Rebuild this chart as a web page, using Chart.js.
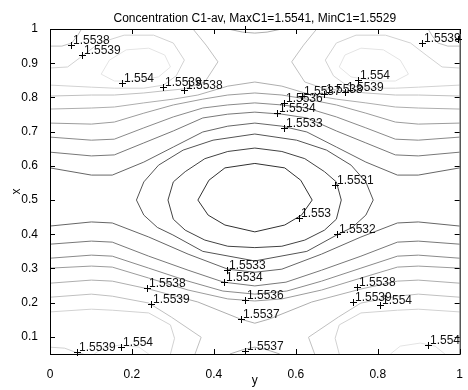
<!DOCTYPE html>
<html>
<head>
<meta charset="utf-8">
<script src="https://cdn.jsdelivr.net/npm/chart.js@4/dist/chart.umd.min.js"></script>
<style>
  html, body { margin: 0; padding: 0; background: #fff; }
  #wrap { width: 468px; height: 390px; }
</style>
</head>
<body>
<div id="wrap"><canvas id="plot" width="468" height="390"></canvas></div>
<script>
// contour lines: horizontal "y" values and vertical "x" values

// 1.5530
const l30Y = [0.361, 0.388, 0.427, 0.5, 0.573, 0.612, 0.640, 0.614, 0.573, 0.5, 0.427, 0.386, 0.361];
const l30X = [0.500, 0.558, 0.594, 0.607, 0.594, 0.558, 0.500, 0.456, 0.427, 0.407, 0.427, 0.456, 0.500];

// 1.5531
const l31Y = [0.288, 0.301, 0.330, 0.378, 0.434, 0.5, 0.566, 0.622, 0.670, 0.699, 0.711, 0.699, 0.670, 0.622, 0.566, 0.5, 0.434, 0.378, 0.330, 0.301, 0.288];
const l31X = [0.500, 0.553, 0.583, 0.621, 0.642, 0.652, 0.642, 0.621, 0.583, 0.553, 0.500, 0.444, 0.412, 0.383, 0.365, 0.361, 0.365, 0.383, 0.412, 0.444, 0.500];

// 1.5532
const l32Y = [0.211, 0.229, 0.265, 0.325, 0.398, 0.5, 0.602, 0.675, 0.735, 0.771, 0.789, 0.771, 0.738, 0.700, 0.627, 0.5, 0.373, 0.300, 0.262, 0.229, 0.211];
const l32X = [0.500, 0.553, 0.602, 0.646, 0.675, 0.693, 0.675, 0.646, 0.602, 0.553, 0.500, 0.456, 0.420, 0.398, 0.350, 0.322, 0.350, 0.398, 0.420, 0.456, 0.500];

// 1.5533
const l33upY = [0, 0.101, 0.152, 0.229, 0.301, 0.373, 0.434, 0.5, 0.566, 0.627, 0.699, 0.771, 0.848, 0.899, 1];
const l33upX = [0.594, 0.573, 0.573, 0.611, 0.655, 0.699, 0.716, 0.725, 0.716, 0.699, 0.655, 0.611, 0.573, 0.573, 0.594];
const l33loY = [0, 0.101, 0.152, 0.241, 0.337, 0.434, 0.5, 0.566, 0.663, 0.759, 0.848, 0.899, 1];
const l33loX = [0.424, 0.436, 0.433, 0.392, 0.342, 0.298, 0.289, 0.298, 0.342, 0.392, 0.433, 0.436, 0.424];

// 1.5534
const l34upY = [0, 0.101, 0.157, 0.229, 0.301, 0.373, 0.434, 0.5, 0.566, 0.627, 0.699, 0.771, 0.843, 0.899, 1];
const l34upX = [0.640, 0.629, 0.632, 0.667, 0.702, 0.740, 0.751, 0.757, 0.751, 0.740, 0.702, 0.667, 0.632, 0.629, 0.640];
const l34loY = [0, 0.101, 0.152, 0.241, 0.337, 0.424, 0.5, 0.576, 0.663, 0.759, 0.848, 0.899, 1];
const l34loX = [0.371, 0.380, 0.377, 0.336, 0.295, 0.260, 0.249, 0.260, 0.295, 0.336, 0.377, 0.380, 0.371];

// 1.5535
const l35upY = [0, 0.101, 0.157, 0.229, 0.301, 0.373, 0.434, 0.5, 0.566, 0.627, 0.699, 0.771, 0.843, 0.899, 1];
const l35upX = [0.684, 0.675, 0.678, 0.711, 0.743, 0.769, 0.778, 0.784, 0.778, 0.769, 0.743, 0.711, 0.678, 0.675, 0.684];
const l35loY = [0, 0.101, 0.152, 0.241, 0.337, 0.422, 0.5, 0.578, 0.663, 0.759, 0.848, 0.899, 1];
const l35loX = [0.330, 0.339, 0.336, 0.301, 0.263, 0.234, 0.225, 0.234, 0.263, 0.301, 0.336, 0.339, 0.330];

// 1.5536
const l36upY = [0, 0.101, 0.157, 0.229, 0.301, 0.373, 0.434, 0.5, 0.566, 0.627, 0.699, 0.771, 0.843, 0.899, 1];
const l36upX = [0.725, 0.722, 0.728, 0.754, 0.778, 0.795, 0.807, 0.813, 0.807, 0.795, 0.778, 0.754, 0.728, 0.722, 0.725];
const l36loY = [0, 0.101, 0.152, 0.241, 0.337, 0.434, 0.5, 0.566, 0.663, 0.759, 0.848, 0.899, 1];
const l36loX = [0.301, 0.307, 0.304, 0.272, 0.237, 0.211, 0.205, 0.211, 0.237, 0.272, 0.304, 0.307, 0.301];

// 1.5537
const l37upY = [0, 0.101, 0.157, 0.229, 0.301, 0.361, 0.434, 0.5, 0.566, 0.639, 0.699, 0.771, 0.843, 0.899, 1];
const l37upX = [0.766, 0.769, 0.772, 0.784, 0.795, 0.807, 0.833, 0.845, 0.833, 0.807, 0.795, 0.784, 0.772, 0.769, 0.766];
const l37loY = [0, 0.101, 0.152, 0.241, 0.361, 0.465, 0.5, 0.535, 0.639, 0.759, 0.848, 0.899, 1];
const l37loX = [0.257, 0.266, 0.263, 0.240, 0.202, 0.152, 0.140, 0.152, 0.202, 0.240, 0.263, 0.266, 0.257];
const l37capTopY = [0.434, 0.470, 0.5, 0.530, 0.566];
const l37capTopX = [1.0, 0.991, 0.988, 0.991, 1.0];
const l37capBotY = [0.439, 0.475, 0.5, 0.525, 0.561];
const l37capBotX = [0.050, 0.064, 0.070, 0.064, 0.050];

// 1.5538
const l38tlY = [0, 0.101, 0.157, 0.229, 0.277, 0.328, 0.378, 0.410, 0.381, 0.349];
const l38tlX = [0.804, 0.807, 0.807, 0.813, 0.819, 0.825, 0.845, 0.904, 0.953, 1.0];
const l38trY = [1, 0.899, 0.843, 0.771, 0.723, 0.672, 0.622, 0.590, 0.619, 0.651];
const l38trX = [0.804, 0.807, 0.807, 0.813, 0.819, 0.825, 0.845, 0.904, 0.953, 1.0];
const l38cornerLY = [0, 0.029, 0.053, 0.067, 0.077];
const l38cornerLX = [0.950, 0.950, 0.959, 0.980, 1.0];
const l38cornerRY = [1, 0.971, 0.947, 0.933, 0.923];
const l38cornerRX = [0.950, 0.950, 0.959, 0.980, 1.0];
const l38blY = [0, 0.101, 0.152, 0.241, 0.296, 0.369, 0.354];
const l38blX = [0.216, 0.225, 0.219, 0.199, 0.158, 0.099, 0.050];
const l38brY = [1, 0.899, 0.848, 0.759, 0.704, 0.631, 0.646];
const l38brX = [0.216, 0.225, 0.219, 0.199, 0.158, 0.099, 0.050];

// 1.5539
const l39tlY = [0, 0.043, 0.082, 0.120, 0.181, 0.253, 0.301, 0.328, 0.308, 0.277, 0.229, 0.157, 0.101, 0];
const l39tlX = [0.886, 0.889, 0.924, 0.959, 0.982, 0.982, 0.959, 0.909, 0.863, 0.836, 0.827, 0.827, 0.830, 0.836];
const l39trY = [1, 0.957, 0.918, 0.880, 0.819, 0.747, 0.699, 0.672, 0.692, 0.723, 0.771, 0.843, 0.899, 1];
const l39trX = [0.886, 0.889, 0.924, 0.959, 0.982, 0.982, 0.959, 0.909, 0.863, 0.836, 0.827, 0.827, 0.830, 0.836];
const l39blY = [0, 0.101, 0.152, 0.241, 0.294, 0.304, 0.294];
const l39blX = [0.173, 0.181, 0.178, 0.170, 0.135, 0.096, 0.050];
const l39brY = [1, 0.899, 0.848, 0.759, 0.706, 0.696, 0.706];
const l39brX = [0.173, 0.181, 0.178, 0.170, 0.135, 0.096, 0.050];
const l39cornerY = [0, 0.036, 0.067, 0.082];
const l39cornerX = [0.070, 0.067, 0.053, 0.050];

// 1.5540
const l40tlY = [0.125, 0.145, 0.186, 0.241, 0.280, 0.294, 0.265, 0.205, 0.157, 0.125];
const l40tlX = [0.868, 0.909, 0.939, 0.944, 0.924, 0.889, 0.860, 0.848, 0.848, 0.868];
const l40trY = [0.875, 0.855, 0.814, 0.759, 0.720, 0.706, 0.735, 0.795, 0.843, 0.875];
const l40trX = [0.868, 0.909, 0.939, 0.944, 0.924, 0.889, 0.860, 0.848, 0.848, 0.868];
const l40blY = [0.108, 0.133, 0.173, 0.217, 0.241];
const l40blX = [0.050, 0.070, 0.076, 0.070, 0.050];
const l40brY = [0.831, 0.855, 0.904, 0.940, 0.964];
const l40brX = [0.050, 0.073, 0.082, 0.073, 0.050];

// clabel markers
const labelY = [0.051, 0.077, 0.176, 0.275, 0.328, 0.475, 0.908, 0.995, 0.752, 0.720, 0.670, 0.614, 0.571, 0.554, 0.571,
                0.696, 0.607, 0.701, 0.431, 0.424, 0.475, 0.467, 0.475, 0.236, 0.246, 0.065, 0.173, 0.749, 0.740, 0.805, 0.923];
const labelX = [0.953, 0.924, 0.842, 0.830, 0.822, 1.000, 0.959, 0.971, 0.851, 0.816, 0.810, 0.804, 0.784, 0.754, 0.711,
                0.544, 0.447, 0.401, 0.295, 0.260, 0.208, 0.152, 0.058, 0.243, 0.196, 0.056, 0.070, 0.246, 0.202, 0.193, 0.076];
const labelText = ["1.5538", "1.5539", "1.554", "1.5539", "1.5538", "", "1.5539", "", "1.554", "1.5539", "1.5538", "1.5537", "1.5536", "1.5534", "1.5533",
                   "1.5531", "1.553", "1.5532", "1.5533", "1.5534", "1.5536", "1.5537", "1.5537", "1.5538", "1.5539", "1.5539", "1.554", "1.5538", "1.5539", "1.554", "1.554"];

const xTicks = [0, 0.2, 0.4, 0.6, 0.8, 1];
const yTicks = [0.1, 0.2, 0.3, 0.4, 0.5, 0.6, 0.7, 0.8, 0.9, 1];

const titleText = "Concentration C1-av, MaxC1=1.5541, MinC1=1.5529";

const contours = [
  [1.5530, l30Y, l30X], [1.5531, l31Y, l31X], [1.5532, l32Y, l32X],
  [1.5533, l33upY, l33upX], [1.5533, l33loY, l33loX],
  [1.5534, l34upY, l34upX], [1.5534, l34loY, l34loX],
  [1.5535, l35upY, l35upX], [1.5535, l35loY, l35loX],
  [1.5536, l36upY, l36upX], [1.5536, l36loY, l36loX],
  [1.5537, l37upY, l37upX], [1.5537, l37loY, l37loX], [1.5537, l37capTopY, l37capTopX], [1.5537, l37capBotY, l37capBotX],
  [1.5538, l38tlY, l38tlX], [1.5538, l38trY, l38trX], [1.5538, l38cornerLY, l38cornerLX], [1.5538, l38cornerRY, l38cornerRX],
  [1.5538, l38blY, l38blX], [1.5538, l38brY, l38brX],
  [1.5539, l39tlY, l39tlX], [1.5539, l39trY, l39trX], [1.5539, l39blY, l39blX], [1.5539, l39brY, l39brX], [1.5539, l39cornerY, l39cornerX],
  [1.5540, l40tlY, l40tlX], [1.5540, l40trY, l40trX], [1.5540, l40blY, l40blX], [1.5540, l40brY, l40brX],
];

// gray colormap: low levels dark, high levels light
function shade(level) {
  const g = Math.round(48 + (level - 1.553) / 0.001 * 180);
  return `rgb(${g},${g},${g})`;
}

const FONT = '"Liberation Sans", Arial, sans-serif';

const datasets = contours.map(([lvl, ys, xs]) => ({
  data: ys.map((v, i) => ({ x: v, y: xs[i] })),
  showLine: true,
  borderColor: shade(lvl),
  borderWidth: 1,
  pointRadius: 0,
  fill: false,
  tension: 0,
}));

// frame, inward ticks, clabel marks, title and axis names
const decor = {
  id: "decor",
  afterDatasetsDraw(chart) {
    const { ctx, chartArea: a, scales } = chart;
    const sx = scales.x, sy = scales.y;
    ctx.save();

    ctx.strokeStyle = "#000";
    ctx.lineWidth = 1;
    ctx.strokeRect(a.left + 0.5, a.top + 0.5, a.right - a.left, a.bottom - a.top);

    ctx.beginPath();
    xTicks.forEach((v) => {
      const px = Math.round(sx.getPixelForValue(v)) + 0.5;
      ctx.moveTo(px, a.bottom); ctx.lineTo(px, a.bottom - 5);
      ctx.moveTo(px, a.top); ctx.lineTo(px, a.top + 5);
    });
    yTicks.forEach((v) => {
      const py = Math.round(sy.getPixelForValue(v)) + 0.5;
      ctx.moveTo(a.left, py); ctx.lineTo(a.left + 5, py);
      ctx.moveTo(a.right, py); ctx.lineTo(a.right - 5, py);
    });
    ctx.stroke();

    ctx.font = "12px " + FONT;
    ctx.fillStyle = "#111";
    ctx.textAlign = "left";
    ctx.textBaseline = "alphabetic";
    ctx.beginPath();
    labelY.forEach((v, i) => {
      const px = Math.round(sx.getPixelForValue(v)) + 0.5;
      const py = Math.round(sy.getPixelForValue(labelX[i])) + 0.5;
      ctx.moveTo(px - 3.5, py); ctx.lineTo(px + 3.5, py);
      ctx.moveTo(px, py - 3.5); ctx.lineTo(px, py + 3.5);
      if (labelText[i]) ctx.fillText(labelText[i], px + 1.5, py - 2);
    });
    ctx.stroke();

    ctx.fillStyle = "#000";
    ctx.textAlign = "center";
    ctx.fillText(titleText, (a.left + a.right) / 2, 22);
    ctx.fillText("y", (a.left + a.right) / 2, 384);
    ctx.translate(17, (a.top + a.bottom) / 2);
    ctx.rotate(-Math.PI / 2);
    ctx.textBaseline = "middle";
    ctx.fillText("x", 0, 0);
    ctx.restore();
  },
};

const fmt = (v) => String(+Number(v).toFixed(2));

new Chart(document.getElementById("plot"), {
  type: "scatter",
  data: { datasets },
  options: {
    responsive: false,
    animation: false,
    devicePixelRatio: 1,
    layout: { padding: { top: 29, right: 3, left: 0, bottom: 0 } },
    plugins: { legend: { display: false }, tooltip: { enabled: false }, title: { display: false } },
    scales: {
      x: {
        type: "linear",
        min: 0,
        max: 1,
        afterBuildTicks: (s) => { s.ticks = xTicks.map((v) => ({ value: v })); },
        afterFit: (s) => { s.height = 36; },
        ticks: { font: { family: FONT, size: 12 }, color: "#000", padding: 5, maxRotation: 0, autoSkip: false, callback: fmt },
        grid: { display: false },
        border: { display: false },
      },
      y: {
        type: "linear",
        min: 0.05,
        max: 1,
        afterBuildTicks: (s) => { s.ticks = yTicks.map((v) => ({ value: v })); },
        afterFit: (s) => { s.width = 50; },
        ticks: { font: { family: FONT, size: 12 }, color: "#000", padding: 4, autoSkip: false, callback: fmt },
        grid: { display: false },
        border: { display: false },
      },
    },
  },
  plugins: [decor],
});
</script>
</body>
</html>
